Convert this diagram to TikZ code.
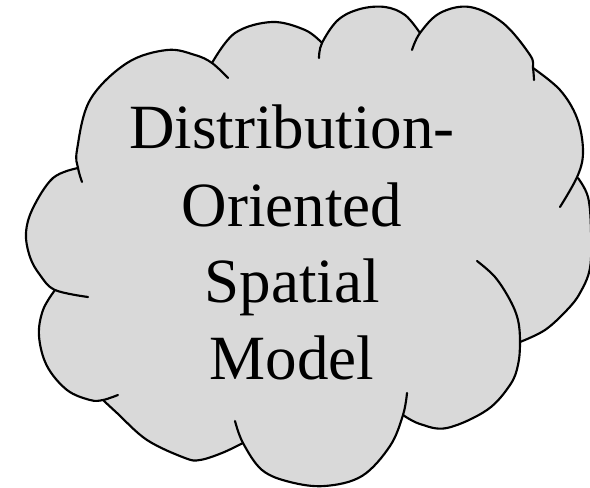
\documentclass[tikz,border=0pt]{standalone}
\usepackage{fontspec}
\setmainfont{Liberation Serif}
\definecolor{cloudgray}{RGB}{217,217,217}
\tikzset{
  cloudfill/.style={fill=cloudgray},
  cloudline/.style={draw=black, line width=1.6pt, line cap=round, line join=round},
  lobe/.style={smooth, tension=0.6},
  cloudtext/.style={font=\fontsize{47.25}{57.75}\selectfont, align=center, text=black, inner sep=0pt}
}
\begin{document}
\begin{tikzpicture}[x=0.75pt, y=-0.75pt]
\useasboundingbox (0,0) rectangle (590,488);
\coordinate (c) at (292,250);
% fill: core polygon through the junctions plus fans from the centre to every lobe, one path (nonzero rule)
\fill[cloudfill]
  (78,168) -- (212,63) -- (322,43) -- (420,33) -- (533,68) -- (578,178) -- (520,342) -- (403,415) -- (243,443) -- (103,400) -- (55,290) -- cycle
  (c) -- plot[lobe] coordinates {(88,297) (55,290) (40,275) (30,257) (26,233) (33,208) (53,178) (78,168)} -- cycle
  (c) -- plot[lobe] coordinates {(82,182) (78,168) (77,150) (90,100) (127,63) (167,50) (195,55) (212,63) (228,78)} -- cycle
  (c) -- plot[lobe] coordinates {(212,63) (235,33) (272,22) (305,30) (322,43)} -- cycle
  (c) -- plot[lobe] coordinates {(319,58) (322,43) (338,20) (360,9) (385,7) (405,15) (420,33)} -- cycle
  (c) -- plot[lobe] coordinates {(412,50) (420,33) (440,13) (470,7) (503,23) (530,55) (533,68) (534,80)} -- cycle
  (c) -- plot[lobe] coordinates {(533,68) (560,90) (577,118) (583,150) (578,175) (560,207)} -- cycle
  (c) -- plot[lobe] coordinates {(578,178) (588,197) (591,230) (590,268) (580,293) (567,310) (545,330) (520,342)} -- cycle
  (c) -- plot[lobe] coordinates {(477,261) (495,277) (510,300) (518,320) (520,342) (518,365) (510,385) (487,410) (447,428) (420,424) (403,415)} -- cycle
  (c) -- plot[lobe] coordinates {(407,393) (403,415) (390,446) (362,476) (325,486) (290,482) (262,470) (243,443) (235,421)} -- cycle
  (c) -- plot[lobe] coordinates {(243,443) (222,453) (200,460) (185,458) (147,440) (117,413) (103,400)} -- cycle
  (c) -- plot[lobe] coordinates {(118,395) (103,400) (90,400) (67,390) (47,366) (39,336) (43,310) (55,290)} -- cycle;
% outline lobes
\draw[cloudline] plot[lobe] coordinates {(88,297) (55,290) (40,275) (30,257) (26,233) (33,208) (53,178) (78,168)};
\draw[cloudline] plot[lobe] coordinates {(82,182) (78,168) (77,150) (90,100) (127,63) (167,50) (195,55) (212,63) (228,78)};
\draw[cloudline] plot[lobe] coordinates {(212,63) (235,33) (272,22) (305,30) (322,43)};
\draw[cloudline] plot[lobe] coordinates {(319,58) (322,43) (338,20) (360,9) (385,7) (405,15) (420,33)};
\draw[cloudline] plot[lobe] coordinates {(412,50) (420,33) (440,13) (470,7) (503,23) (530,55) (533,68) (534,80)};
\draw[cloudline] plot[lobe] coordinates {(533,68) (560,90) (577,118) (583,150) (578,175) (560,207)};
\draw[cloudline] plot[lobe] coordinates {(578,178) (588,197) (591,230) (590,268) (580,293) (567,310) (545,330) (520,342)};
\draw[cloudline] plot[lobe] coordinates {(477,261) (495,277) (510,300) (518,320) (520,342) (518,365) (510,385) (487,410) (447,428) (420,424) (403,415)};
\draw[cloudline] plot[lobe] coordinates {(407,393) (403,415) (390,446) (362,476) (325,486) (290,482) (262,470) (243,443) (235,421)};
\draw[cloudline] plot[lobe] coordinates {(243,443) (222,453) (200,460) (185,458) (147,440) (117,413) (103,400)};
\draw[cloudline] plot[lobe] coordinates {(118,395) (103,400) (90,400) (67,390) (47,366) (39,336) (43,310) (55,290)};
% text (base anchor = baseline of the last line)
\node[cloudtext, anchor=base] (label) at (292,380) {Distribution-\\Oriented\\Spatial\\Model};
\end{tikzpicture}
\end{document}
